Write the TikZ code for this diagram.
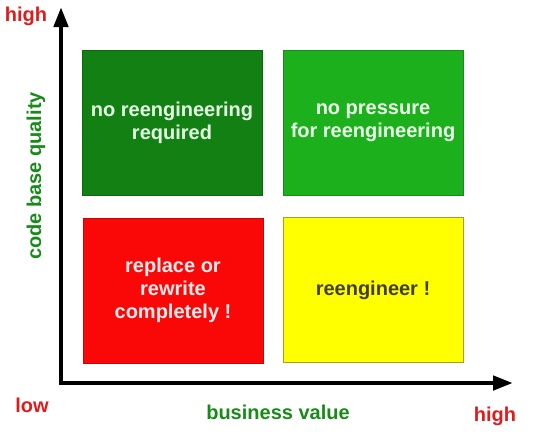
\documentclass[tikz,border=0pt]{standalone}
\usepackage{fontspec}
\setmainfont{Liberation Sans}
\usetikzlibrary{arrows.meta}
\definecolor{darkgreen}{RGB}{18,128,18}
\definecolor{midgreen}{RGB}{28,176,28}
\definecolor{boxred}{RGB}{250,8,8}
\definecolor{boxyellow}{RGB}{255,255,0}
\definecolor{labelred}{RGB}{222,28,28}
\definecolor{labelgreen}{RGB}{24,138,24}
\begin{document}
\begin{tikzpicture}[x=1pt,y=-1pt,
  quadrant/.style={minimum width=180pt,minimum height=145pt,inner sep=0pt,line width=0.8pt,
    align=center,font=\bfseries\fontsize{20}{23}\selectfont},
  axislabel/.style={font=\bfseries\fontsize{20}{23}\selectfont}]
  \useasboundingbox (0,0) rectangle (540,432);
  % axes
  \coordinate (ytip) at (61,7);
  \coordinate (xtip) at (513,383);
  \draw[line width=4.5pt,{Triangle[length=20pt,width=14pt]}-{Triangle[length=20pt,width=14pt]}] (ytip) |- (xtip);
  % quadrants
  \node[quadrant,fill=darkgreen,draw=darkgreen!80!black,text=green!10] (noreeng) at (172,122.5) {no reengineering\\required};
  \node[quadrant,fill=midgreen,draw=midgreen!80!black,text=green!8] (nopress) at (373,122.5) {no pressure\\for reengineering};
  \node[quadrant,fill=boxred,draw=boxred!80!black,text=red!8] (replace) at (173,290.5) {replace or\\rewrite\\completely !};
  \node[quadrant,fill=boxyellow,draw=olive!80,text=black!70!olive] (reeng) at (373,290) {reengineer !};
  % labels
  \node[axislabel,text=labelred] (yhigh) at (26,16) {high};
  \node[axislabel,text=labelgreen,rotate=90] (yname) at (36,176) {code base quality};
  \node[axislabel,text=labelred] (xlow) at (32,405) {low};
  \node[axislabel,text=labelgreen] (xname) at (278,412) {business value};
  \node[axislabel,text=labelred] (xhigh) at (495,416) {high};
\end{tikzpicture}
\end{document}
